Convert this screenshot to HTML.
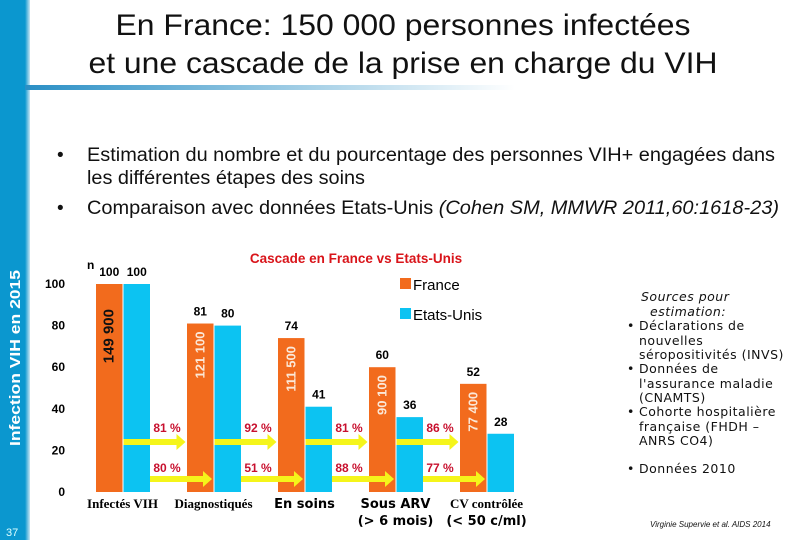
<!DOCTYPE html>
<html><head><meta charset="utf-8"><style>
body{margin:0;width:810px;height:540px;overflow:hidden;background:#fff;font-family:"Liberation Sans",sans-serif;}
svg{position:absolute;left:0;top:0}
</style></head><body>
<svg width="810" height="540" xmlns="http://www.w3.org/2000/svg" id="chart">
<defs>
<linearGradient id="hl" x1="0" x2="1"><stop offset="0" stop-color="#2a8fc5"/><stop offset="1" stop-color="#2a8fc5" stop-opacity="0"/></linearGradient>
<linearGradient id="vs" x1="0" x2="1"><stop offset="0" stop-color="#0b97cf"/><stop offset="1" stop-color="#c9e6f3"/></linearGradient>
</defs>
<rect x="0" y="0" width="25" height="540" fill="#0b97cf"/>
<rect x="25" y="0" width="5" height="540" fill="url(#vs)"/>
<rect x="25" y="85" width="490" height="5" fill="url(#hl)"/>
<g font-size="30" text-anchor="middle" fill="#111">
<text x="403" y="35" textLength="575" lengthAdjust="spacingAndGlyphs">En France: 150 000 personnes infectées</text>
<text x="403" y="73" textLength="629" lengthAdjust="spacingAndGlyphs">et une cascade de la prise en charge du VIH</text>
</g>
<g font-size="19" fill="#111">
<text x="57" y="161">•</text><text x="87" y="161" textLength="688" lengthAdjust="spacingAndGlyphs">Estimation du nombre et du pourcentage des personnes VIH+ engagées dans</text>
<text x="87" y="184" textLength="278" lengthAdjust="spacingAndGlyphs">les différentes étapes des soins</text>
<text x="57" y="214">•</text><text x="87" y="214" textLength="692" lengthAdjust="spacingAndGlyphs">Comparaison avec données Etats-Unis <tspan font-style="italic">(Cohen SM, MMWR 2011,60:1618-23)</tspan></text>
</g>
<text transform="translate(20,358) rotate(-90)" text-anchor="middle" font-size="15" font-weight="bold" fill="#fff" textLength="176" lengthAdjust="spacingAndGlyphs">Infection VIH en 2015</text>
<text x="6" y="536" font-size="11" fill="#dff">37</text>
<text x="356" y="263" text-anchor="middle" font-size="13.5" font-weight="bold" fill="#d9141a">Cascade en France vs Etats-Unis</text>
<text x="87" y="269" font-size="12" font-weight="bold">n</text>
<g font-size="15">
<rect x="400" y="278" width="11" height="11" fill="#f26b1d"/><text x="413" y="290">France</text>
<rect x="400" y="308" width="11" height="11" fill="#0cc3f2"/><text x="413" y="320">Etats-Unis</text>
</g>
<g id="axis" font-size="12" font-weight="bold" text-anchor="end"></g>
<g id="bars"></g>
<g id="arrows"></g>
<g font-family="'DejaVu Sans',sans-serif" font-size="12.5" fill="#111" letter-spacing="0.5">
<text x="641" y="301" font-style="italic">Sources pour</text>
<text x="650" y="316" font-style="italic">estimation:</text>
<text x="627" y="330">•</text><text x="639" y="330">Déclarations de</text>
<text x="639" y="345" >nouvelles</text>
<text x="639" y="359">séropositivités (INVS)</text>
<text x="627" y="373">•</text><text x="639" y="373">Données de</text>
<text x="639" y="388">l'assurance maladie</text>
<text x="639" y="402">(CNAMTS)</text>
<text x="627" y="416">•</text><text x="639" y="416">Cohorte hospitalière</text>
<text x="639" y="431">française (FHDH –</text>
<text x="639" y="445">ANRS CO4)</text>
<text x="627" y="473">•</text><text x="639" y="473">Données 2010</text>
<text x="650" y="527" font-size="8" font-style="italic" font-family="'Liberation Sans',sans-serif" letter-spacing="0">Virginie Supervie et al. AIDS 2014</text>
</g>
</svg>
<script>
const categories=["Infectés VIH","Diagnostiqués","En soins","Sous ARV|(> 6 mois)","CV contrôlée|(< 50 c/ml)"];
const franceValues=[100,81,74,60,52];
const usValues=[100,80,41,36,28];
const franceCounts=["149 900","121 100","111 500","90 100","77 400"];
const francePct=["81 %","92 %","81 %","86 %"];
const usPct=["80 %","51 %","88 %","77 %"];
const yTicks=[0,20,40,60,80,100];
const NS="http://www.w3.org/2000/svg";
const y0=492,ppu=2.08;
const yS=v=>y0-v*ppu;
const xG=i=>96+i*91;
const bw=26.5;
function mk(t,a,p){const e=document.createElementNS(NS,t);for(const k in a)e.setAttribute(k,a[k]);(p||document.getElementById('bars')).appendChild(e);return e;}
const ax=document.getElementById('axis');
const ag=document.getElementById('arrows');
yTicks.forEach(t=>{const e=mk('text',{x:65,y:yS(t)+4},ax);e.textContent=t;

});
categories.forEach((c,i)=>{
 const xf=xG(i),xu=xf+bw+1;
 const r1=mk('rect',{x:xf,y:yS(franceValues[i]),width:bw,height:franceValues[i]*ppu,fill:'#f26b1d'});
 
 
 const r2=mk('rect',{x:xu,y:yS(usValues[i]),width:bw,height:usValues[i]*ppu,fill:'#0cc3f2'});
 
 
 const l1=mk('text',{x:xf+bw/2,y:yS(franceValues[i])-8,'text-anchor':'middle','font-size':12,'font-weight':'bold'});l1.textContent=franceValues[i];
 
 
 const l2=mk('text',{x:xu+bw/2,y:yS(usValues[i])-8,'text-anchor':'middle','font-size':12,'font-weight':'bold'});l2.textContent=usValues[i];
 
 
 const cx=xf+bw/2+4, cy=yS(franceValues[i])+(i==0?25:8);
 const n=mk('text',{transform:`translate(${cx},${cy}) rotate(-90)`,'text-anchor':'end','font-size':i==0?15:13,'font-weight':'bold',fill:i==0?'#111':'#fbe8d8'});n.textContent=franceCounts[i];
 
 
 const parts=c.split('|');
 parts.forEach((p,k)=>{const t=mk('text',{x:xf+bw,y:508+k*17,'text-anchor':'middle','font-size':13,'font-weight':'bold','font-family':k==0&&i!=2&&i!=3?"'Liberation Serif',serif":"'DejaVu Sans',sans-serif"});t.textContent=p;
 
 });
 if(i<4){
  const ua=mk('path',{d:`M${xu} 439 h53 v-5 l9 8 l-9 8 v-5 h-53 z`,fill:'#f5f51a'},ag);
  
  
  const la=mk('path',{d:`M${xu+bw} 476 h53 v-5 l9 8 l-9 8 v-5 h-53 z`,fill:'#f5f51a'},ag);
  
  
  const p1=mk('text',{x:xu+bw+17,y:432,'text-anchor':'middle','font-size':12,'font-weight':'bold',fill:'#c8102e'},ag);p1.textContent=francePct[i];
  
  
  const p2=mk('text',{x:xu+bw+17,y:472,'text-anchor':'middle','font-size':12,'font-weight':'bold',fill:'#c8102e'},ag);p2.textContent=usPct[i];
  
  
 }
});
</script>
</body></html>
